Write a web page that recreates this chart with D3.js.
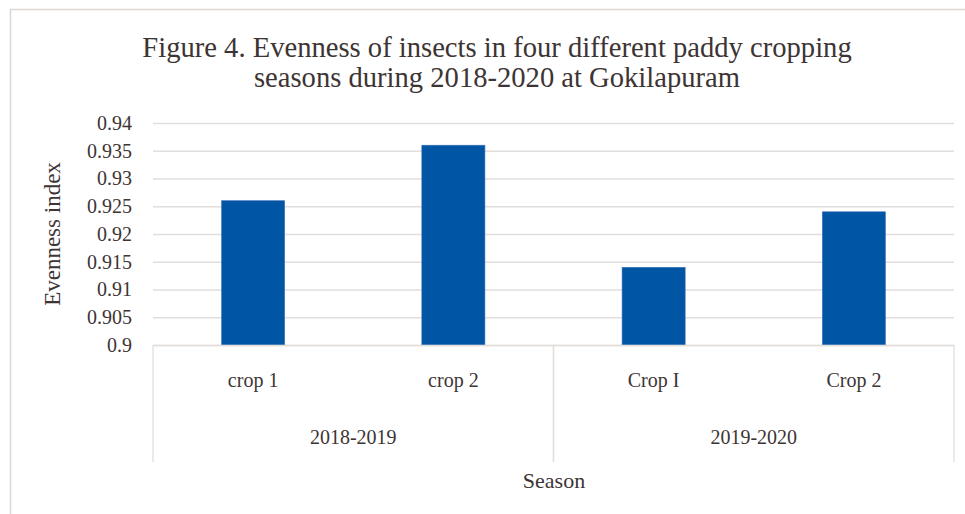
<!DOCTYPE html>
<html>
<head>
<meta charset="utf-8">
<script src="https://cdn.jsdelivr.net/npm/d3@7"></script>
<style>
  html, body { margin: 0; padding: 0; background: #fff; }
  svg { display: block; }
  text { font-family: "Liberation Serif", "Times New Roman", serif; fill: #3d3434; }
</style>
</head>
<body>
<svg id="chart" width="965" height="514"></svg>
<script>
// Evenness index per cropping season
const categories = ["crop 1", "crop 2", "Crop I", "Crop 2"];
const groups = ["2018-2019", "2019-2020"];
const groupOf = [0, 0, 1, 1];
const evenness = [0.926, 0.936, 0.914, 0.924];
const yTicks = [0.9, 0.905, 0.91, 0.915, 0.92, 0.925, 0.93, 0.935, 0.94];
const titleLines = [
  "Figure 4. Evenness of insects in four different paddy cropping",
  "seasons during 2018-2020 at Gokilapuram"
];

const svg = d3.select("#chart");
const plot = { left: 153, right: 954, top: 123, bottom: 345 };
const axisDepth = 117;
const gridColor = "#e2dedb";
const barColor = "#0055a5";

// chart frame
svg.append("path")
  .attr("d", "M10.5,514 V9.5 H965")
  .attr("fill", "none")
  .attr("stroke", "#dcd6d2")
  .attr("stroke-width", 1.5);

// title
svg.append("g").selectAll("text")
  .data(titleLines)
  .join("text")
  .attr("x", 497)
  .attr("y", (d, i) => 57 + i * 30)
  .attr("text-anchor", "middle")
  .style("font-size", "28.6px")
  .text(d => d);

const y = d3.scaleLinear().domain([0.9, 0.94]).range([plot.bottom, plot.top]);
const x = d3.scaleBand()
  .domain(d3.range(categories.length))
  .range([plot.left, plot.right])
  .paddingInner(0.685)
  .paddingOuter(0.3425);

// gridlines
const yAxis = d3.axisLeft(y)
  .tickValues(yTicks)
  .tickSize(-(plot.right - plot.left))
  .tickFormat("");

const gy = svg.append("g")
  .attr("transform", `translate(${plot.left},0)`)
  .call(yAxis);
gy.select(".domain").remove();
gy.selectAll(".tick line").attr("stroke", gridColor).attr("stroke-width", 1.3);

// value labels on the left
const fmt = d => String(+d.toFixed(3));
svg.append("g").selectAll("text")
  .data(yTicks)
  .join("text")
  .attr("x", plot.left - 21)
  .attr("y", d => y(d))
  .attr("dy", "0.34em")
  .attr("text-anchor", "end")
  .style("font-size", "20px")
  .text(fmt);

// bars
svg.append("g").selectAll("rect")
  .data(evenness)
  .join("rect")
  .attr("x", (d, i) => x(i))
  .attr("y", d => y(d))
  .attr("width", x.bandwidth())
  .attr("height", d => y(0.9) - y(d))
  .attr("fill", barColor)
  .attr("stroke", "#3a72b8")
  .attr("stroke-width", 0.6);

// category axis with group separators
const gx = svg.append("g");
gx.append("line")
  .attr("x1", plot.left).attr("x2", plot.right)
  .attr("y1", plot.bottom + 0.5).attr("y2", plot.bottom + 0.5)
  .attr("stroke", gridColor).attr("stroke-width", 1.3);

const groupExtents = groups.map((g, gi) => {
  const idx = d3.range(categories.length).filter(i => groupOf[i] === gi);
  const step = x.step();
  const start = x(idx[0]) - x.paddingOuter() * step;
  const end = x(idx[idx.length - 1]) + x.bandwidth() + x.paddingOuter() * step;
  return { name: g, start, end };
});
const separators = Array.from(new Set(groupExtents.flatMap(g => [g.start, g.end])));
gx.selectAll("line.sep")
  .data(separators)
  .join("line")
  .attr("class", "sep")
  .attr("x1", d => d).attr("x2", d => d)
  .attr("y1", plot.bottom).attr("y2", plot.bottom + axisDepth)
  .attr("stroke", gridColor).attr("stroke-width", 1.3);

gx.selectAll("text.cat")
  .data(categories)
  .join("text")
  .attr("class", "cat")
  .attr("x", (d, i) => x(i) + x.bandwidth() / 2)
  .attr("y", 387)
  .attr("text-anchor", "middle")
  .style("font-size", "20px")
  .text(d => d);

gx.selectAll("text.grp")
  .data(groupExtents)
  .join("text")
  .attr("class", "grp")
  .attr("x", d => (d.start + d.end) / 2)
  .attr("y", 444)
  .attr("text-anchor", "middle")
  .style("font-size", "20px")
  .text(d => d.name);

// axis titles
svg.append("text")
  .attr("x", 554)
  .attr("y", 488)
  .attr("text-anchor", "middle")
  .style("font-size", "22px")
  .text("Season");

svg.append("text")
  .attr("transform", "translate(60,234) rotate(-90)")
  .attr("text-anchor", "middle")
  .style("font-size", "23px")
  .text("Evenness index");
</script>
</body>
</html>
